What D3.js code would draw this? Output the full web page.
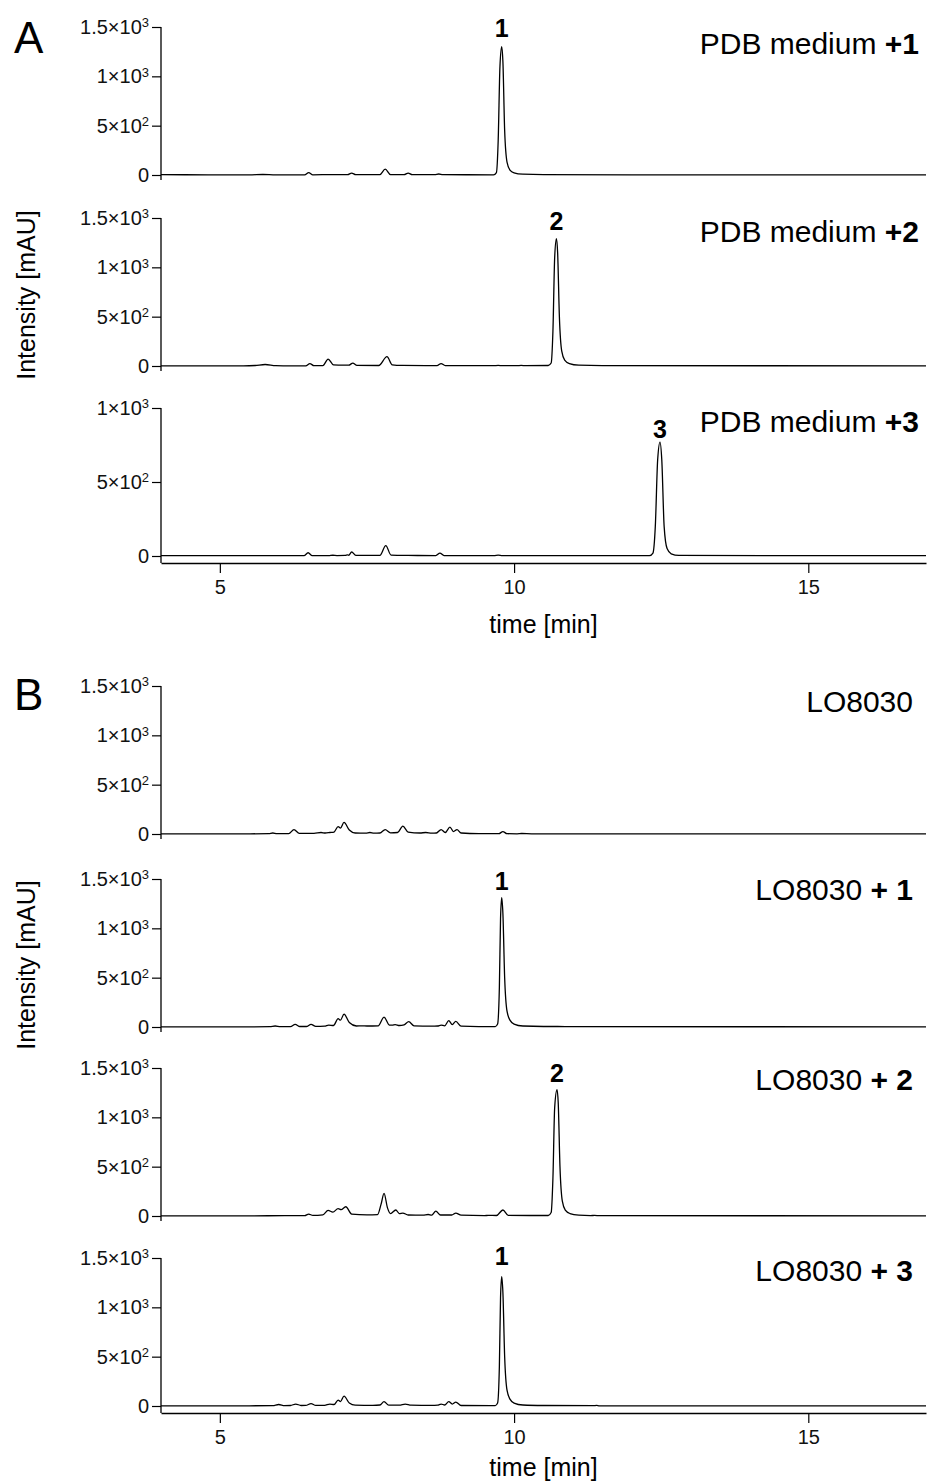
<!DOCTYPE html>
<html>
<head>
<meta charset="utf-8">
<script src="https://cdn.jsdelivr.net/npm/d3@7"></script>
<style>
  body { margin: 0; background: #fff; }
  svg { display: block; font-family: "Liberation Sans", Arial, sans-serif; }
</style>
</head>
<body>
<div id="chart"></div>
<script>
/* global d3 */
// chromatogram traces, [time (min), intensity (mAU)]
var pdb1 = [[4,3],[4.8,2],[5.5,1],[5.73,5],[5.95,1],[6.44,1],[6.51,25],[6.58,2],[6.9,4],[7.17,3],[7.24,20],[7.31,3],
  [7.72,4],[7.81,60],[7.9,4],[8.13,3],[8.2,20],[8.27,3],[8.65,3],[8.72,10],[8.79,3],[9.65,2],[9.7,25],[9.73,350],
  [9.76,1100],[9.79,1300],[9.81,1150],[9.84,450],[9.88,130],[9.93,50],[10.0,22],[10.15,8],[10.5,3],[12,2],[17,2]];
var pdb2 = [[4,2],[5.4,1],[5.6,5],[5.77,15],[5.95,4],[6.2,2],[6.46,2],[6.53,25],[6.6,3],[6.75,4],[6.84,70],[6.93,12],
  [7.1,8],[7.19,8],[7.26,30],[7.33,6],[7.7,5],[7.84,95],[7.93,12],[8.1,6],[8.5,4],[8.69,4],[8.76,25],[8.83,4],
  [9.65,3],[9.73,6],[9.8,3],[10.05,3],[10.12,6],[10.2,3],[10.58,5],[10.63,30],[10.66,350],[10.69,1100],[10.72,1290],
  [10.74,1150],[10.77,500],[10.81,150],[10.86,60],[10.94,25],[11.1,8],[11.5,3],[17,2]];
var pdb3 = [[4,3],[6.0,2],[6.43,2],[6.5,22],[6.57,2],[6.85,2],[6.92,5],[6.99,3],[7.13,4],[7.17,8],[7.19,5],[7.24,27],
  [7.31,4],[7.72,4],[7.82,70],[7.91,6],[8.2,4],[8.67,3],[8.74,20],[8.81,3],[9.66,3],[9.73,6],[9.8,3],[12.3,2],
  [12.36,20],[12.4,200],[12.44,650],[12.48,770],[12.51,650],[12.55,200],[12.6,50],[12.67,15],[12.8,4],[17,2]];
var lo = [[4,2],[5.5,2],[5.83,3],[5.9,10],[5.97,4],[6.17,4],[6.26,45],[6.35,6],[6.6,6],[6.72,15],[6.79,10],[6.87,15],
  [6.94,20],[7.01,75],[7.05,60],[7.11,118],[7.2,40],[7.3,10],[7.48,8],[7.55,15],[7.62,8],[7.72,10],[7.81,45],[7.9,12],
  [8.02,15],[8.11,80],[8.2,20],[8.4,10],[8.5,15],[8.6,8],[8.68,10],[8.76,45],[8.83,15],[8.91,70],[8.97,25],[9.03,45],
  [9.1,10],[9.4,3],[9.74,3],[9.81,25],[9.88,3],[10.05,2],[10.13,5],[10.3,2],[17,2]];
var lo1 = [[4,2],[5.5,2],[5.85,4],[5.94,10],[6.03,4],[6.2,4],[6.28,27],[6.36,5],[6.47,5],[6.55,27],[6.63,6],[6.78,8],
  [6.85,20],[6.93,15],[7.01,84],[7.05,70],[7.11,130],[7.2,45],[7.32,10],[7.41,12],[7.5,10],[7.69,12],[7.79,100],
  [7.88,20],[7.93,18],[7.98,25],[8.05,15],[8.13,22],[8.21,54],[8.3,12],[8.6,8],[8.7,10],[8.76,20],[8.82,12],[8.89,64],
  [8.95,25],[9.01,57],[9.1,8],[9.4,4],[9.68,4],[9.72,30],[9.75,400],[9.77,1100],[9.79,1310],[9.81,1150],[9.84,500],
  [9.88,160],[9.93,70],[10.0,30],[10.15,10],[10.5,5],[10.74,5],[11,3],[17,2]];
var lo2 = [[4,2],[5.5,2],[6.1,3],[6.44,4],[6.51,20],[6.58,6],[6.75,12],[6.84,57],[6.92,40],[7.01,74],[7.06,65],[7.14,94],
  [7.24,20],[7.5,12],[7.68,14],[7.74,120],[7.79,229],[7.85,80],[7.9,25],[7.99,61],[8.05,25],[8.11,30],[8.2,10],[8.45,8],
  [8.54,15],[8.6,8],[8.67,50],[8.75,10],[8.94,10],[9.01,30],[9.1,8],[9.5,4],[9.56,6],[9.7,5],[9.81,61],[9.9,6],
  [10.58,5],[10.63,35],[10.66,380],[10.69,1100],[10.73,1280],[10.75,1150],[10.78,500],[10.82,150],[10.87,60],
  [10.95,25],[11.1,8],[11.3,4],[11.37,6],[11.45,3],[17,2]];
var lo3 = [[4,2],[5.5,2],[5.9,4],[6.0,15],[6.1,4],[6.2,5],[6.29,20],[6.38,5],[6.46,6],[6.55,25],[6.63,6],[6.78,7],
  [6.87,20],[6.94,15],[7.01,60],[7.05,45],[7.11,100],[7.2,30],[7.3,8],[7.6,6],[7.72,10],[7.79,45],[7.87,8],[8.05,8],
  [8.15,20],[8.25,8],[8.6,6],[8.7,8],[8.76,20],[8.82,10],[8.89,45],[8.95,20],[9.01,40],[9.1,5],[9.68,4],[9.72,30],
  [9.75,400],[9.77,1100],[9.79,1310],[9.81,1150],[9.84,500],[9.88,160],[9.93,70],[10.0,30],[10.15,10],[10.5,5],
  [11.35,3],[11.4,6],[11.45,2],[17,2]];

// axes
var timeDomain = [4, 17];
var timeTicks = [5, 10, 15];
var yTicks15 = [0, 500, 1000, 1500];
var yTicks10 = [0, 500, 1000];
// tick labels: [mantissa, exponent]
var yTickLabels = { 0: ['0', ''], 500: ['5', '2'], 1000: ['1', '3'], 1500: ['1.5', '3'] };

// trace labels and marked peaks
var labelsA = [['PDB medium ', '+1'], ['PDB medium ', '+2'], ['PDB medium ', '+3']];
var labelsB = [['LO8030', ''], ['LO8030 ', '+ 1'], ['LO8030 ', '+ 2'], ['LO8030 ', '+ 3']];
var peaksA = [{ t: 9.79, h: 1300, name: '1' }, { t: 10.72, h: 1290, name: '2' }, { t: 12.48, h: 770, name: '3' }];
var peaksB = [null, { t: 9.79, h: 1310, name: '1' }, { t: 10.73, h: 1280, name: '2' }, { t: 9.79, h: 1310, name: '1' }];

var width = 928, height = 1483;
var svg = d3.select('#chart').append('svg').attr('width', width).attr('height', height);

var x = d3.scaleLinear().domain(timeDomain).range([161, 926]);
var plotH = 148;

var line = d3.line().x(d => x(d[0])).curve(d3.curveMonotoneX);

function drawPanel(cfg) {
  let g = svg.append('g');
  let n = cfg.traces.length;

  cfg.traces.forEach(function(tr, i) {
    let y0 = cfg.zeros[i];
    let ymax = cfg.ymax[i];
    let ticks = ymax === 1500 ? yTicks15 : yTicks10;
    let y = d3.scaleLinear().domain([0, ymax]).range([y0, y0 - plotH]);
    let last = i === n - 1;

    // y axis
    let ax = g.append('g')
      .attr('transform', 'translate(' + x.range()[0] + ',0)')
      .call(d3.axisLeft(y).tickValues(ticks).tickSize(9).tickSizeOuter(0).tickPadding(3));
    ax.select('.domain').remove();
    ax.attr('font-size', null).attr('font-family', null);
    ax.selectAll('.tick line').attr('stroke', '#000').attr('stroke-width', 1.2);
    ax.selectAll('.tick text')
      .style('font-size', '20px')
      .attr('fill', '#111')
      .each(function(d) {
        let lab = yTickLabels[d];
        let t = d3.select(this).text(lab[0]);
        if (lab[1]) {
          t.append('tspan').text('\u00d710');
          t.append('tspan').attr('dy', '-0.5em').style('font-size', '13px').text(lab[1]);
        }
      });
    ax.append('line')
      .attr('x1', 0).attr('x2', 0)
      .attr('y1', y(ymax))
      .attr('y2', last ? cfg.axisY : y(0) + 5)
      .attr('stroke', '#000').attr('stroke-width', 1.3);

    // trace
    g.append('path')
      .datum(tr)
      .attr('fill', 'none')
      .attr('stroke', '#000')
      .attr('stroke-width', 1.3)
      .attr('stroke-linejoin', 'round')
      .attr('d', line.y(d => y(d[1])));

    // trace label
    let lab = cfg.labels[i];
    let tl = g.append('text')
      .attr('x', cfg.labelX)
      .attr('y', cfg.labelY[i])
      .attr('text-anchor', 'end')
      .attr('font-size', 30)
      .text(lab[0]);
    if (lab[1]) tl.append('tspan').attr('font-weight', 'bold').text(lab[1]);

    // peak label
    let pk = cfg.peaks[i];
    if (pk) {
      g.append('text')
        .attr('x', x(pk.t))
        .attr('y', y(pk.h) - cfg.peakGap[i])
        .attr('text-anchor', 'middle')
        .attr('font-size', 25)
        .attr('font-weight', 'bold')
        .text(pk.name);
    }
  });

  // x axis
  let xa = g.append('g')
    .attr('transform', 'translate(0,' + cfg.axisY + ')')
    .call(d3.axisBottom(x).tickValues(timeTicks).tickSize(10).tickSizeOuter(0).tickPadding(7));
  xa.attr('font-size', null).attr('font-family', null);
  xa.select('.domain').attr('stroke', '#000').attr('stroke-width', 1.6);
  xa.selectAll('.tick line').attr('stroke', '#000').attr('stroke-width', 1.2);
  xa.selectAll('.tick text')
    .style('font-size', '20px')
    .attr('fill', '#111');

  g.append('text')
    .attr('x', (x.range()[0] + x.range()[1]) / 2)
    .attr('y', cfg.axisY + cfg.titleGap)
    .attr('text-anchor', 'middle')
    .attr('font-size', 25)
    .text('time [min]');

  g.append('text')
    .attr('transform', 'translate(35,' + cfg.titleY + ') rotate(-90)')
    .attr('text-anchor', 'middle')
    .attr('font-size', 25)
    .text('Intensity [mAU]');

  g.append('text')
    .attr('x', 14)
    .attr('y', cfg.letterY)
    .attr('font-size', 44)
    .text(cfg.letter);
}

drawPanel({
  letter: 'A', letterY: 53,
  traces: [pdb1, pdb2, pdb3],
  ymax: [1500, 1500, 1000],
  zeros: [175, 366, 556],
  axisY: 563, titleGap: 70,
  labels: labelsA, labelX: 919, labelY: [54, 242, 432],
  peaks: peaksA, peakGap: [10, 9, 4],
  titleY: 295
});

drawPanel({
  letter: 'B', letterY: 710,
  traces: [lo, lo1, lo2, lo3],
  ymax: [1500, 1500, 1500, 1500],
  zeros: [834, 1027, 1216, 1406],
  axisY: 1413, titleGap: 63,
  labels: labelsB, labelX: 913, labelY: [712, 900, 1090, 1281],
  peaks: peaksB, peakGap: [0, 8, 8, 12],
  titleY: 965
});
</script>
</body>
</html>
